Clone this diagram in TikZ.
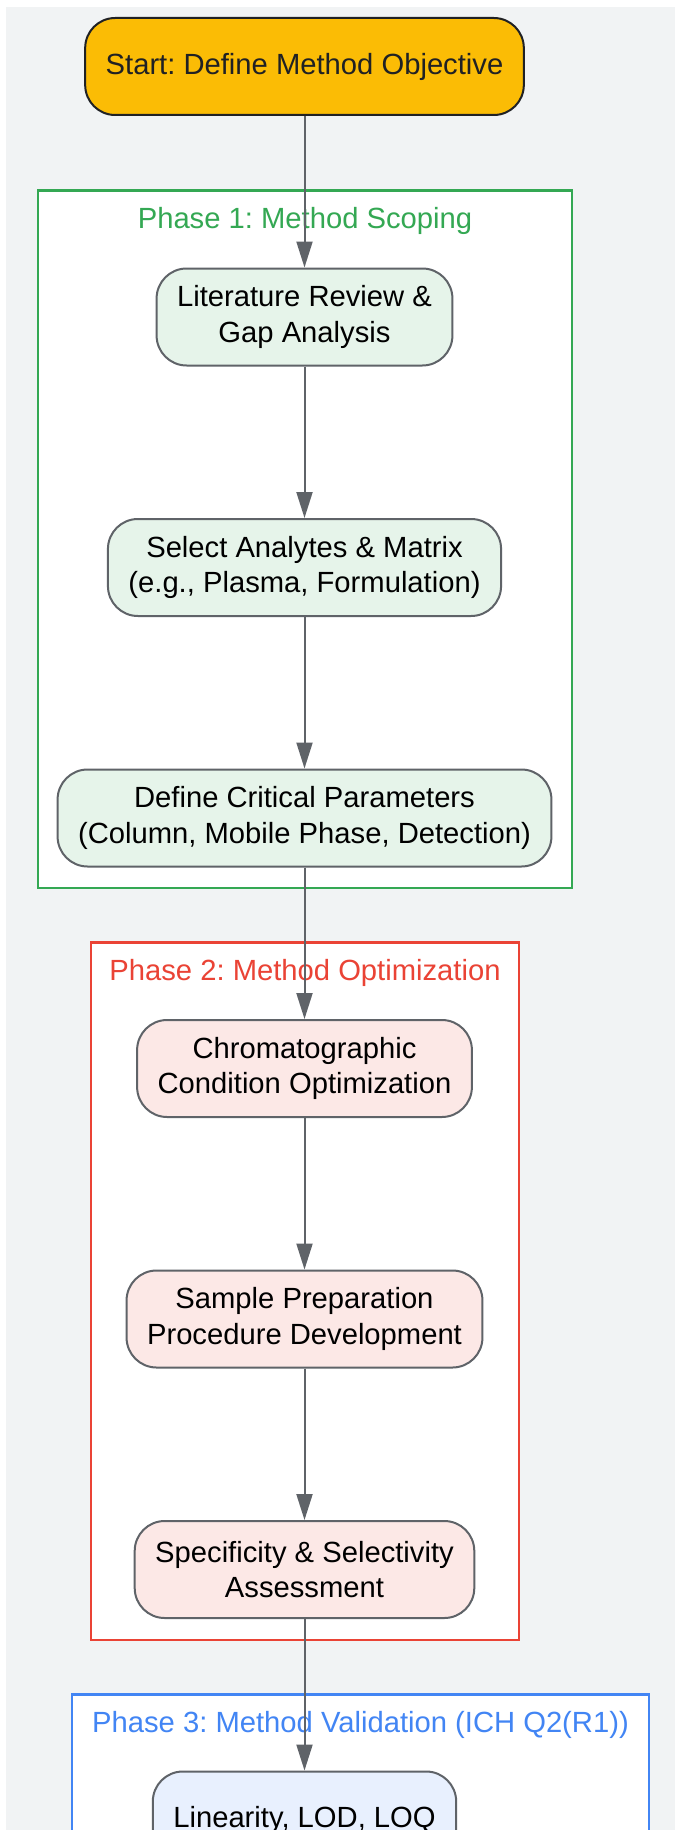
\documentclass[tikz,border=0pt]{standalone}
\usepackage{fontspec}
\setmainfont{Liberation Sans}
\frenchspacing
\usetikzlibrary{positioning}
\usetikzlibrary{arrows.meta}
\definecolor{bggray}{HTML}{F1F3F4}
\definecolor{edgegray}{HTML}{5F6368}
\definecolor{startyellow}{HTML}{FBBC05}
\definecolor{darkline}{HTML}{202124}
\definecolor{phasegreen}{HTML}{34A853}
\definecolor{phasered}{HTML}{EA4335}
\definecolor{phaseblue}{HTML}{4285F4}
\definecolor{fillgreen}{HTML}{E6F4EA}
\definecolor{fillred}{HTML}{FCE8E6}
\definecolor{fillblue}{HTML}{E8F0FE}
\tikzset{
        flownode/.style={align=center, rectangle, rounded corners=30pt, minimum height=97pt, inner xsep=20.5pt, inner ysep=5pt,
            font=\fontsize{29.2}{35.5}\selectfont, line width=2pt},
        % Start node
        node_start/.style={flownode, draw=darkline, fill=startyellow, text=darkline},
        % Scoping steps
        node_scope/.style={flownode, draw=edgegray, fill=fillgreen, text=black},
        % Optimization steps
        node_optim/.style={flownode, draw=edgegray, fill=fillred, text=black},
        % Validation steps
        node_valid/.style={flownode, draw=edgegray, fill=fillblue, text=black},
        % Phase frames and their titles
        cluster_box/.style={rectangle, draw, fill=white, line width=2.5pt, inner sep=0pt},
        cluster_title/.style={font=\fontsize{29.2}{35.5}\selectfont, inner sep=0pt},
        flow/.style={draw=edgegray, line width=2pt, -{Triangle[length=26pt,width=16pt]}}
}
\begin{document}
\begin{tikzpicture}[x=1pt, y=-1pt, node distance=151.5pt]
    \useasboundingbox (0,0) rectangle (675,1830);
    \fill[bggray] (6,7.3) rectangle (675,1830);

    % phase frames
    \node[cluster_box, draw=phasegreen, minimum width=534pt, minimum height=697.3pt] (phase1) at (305,539.35) {};
    \node[cluster_title, text=phasegreen] (phase1title) at ([yshift=-32pt]phase1.north) {Phase 1: Method Scoping};
    \node[cluster_box, draw=phasered, minimum width=428pt, minimum height=697.3pt] (phase2) at (305,1291.35) {};
    \node[cluster_title, text=phasered] (phase2title) at ([yshift=-31.5pt]phase2.north) {Phase 2: Method Optimization};
    \node[cluster_box, draw=phaseblue, minimum width=577pt, minimum height=300pt] (phase3) at (360.5,1844.7) {};
    \node[cluster_title, text=phaseblue] (phase3title) at ([yshift=-31pt]phase3.north) {Phase 3: Method Validation (ICH Q2(R1))};

    % steps
    \node[node_start] (start) at (304.5,66.5) {Start: Define Method Objective};
    \node[node_scope, below=of start] (litreview) {Literature Review \&\\Gap Analysis};
    \node[node_scope, below=of litreview] (analytes) {Select Analytes \& Matrix\\(e.g., Plasma, Formulation)};
    \node[node_scope, below=of analytes] (critparams) {Define Critical Parameters\\(Column, Mobile Phase, Detection)};
    \node[node_optim, below=of critparams] (chromcond) {Chromatographic\\Condition Optimization};
    \node[node_optim, below=of chromcond] (sampleprep) {Sample Preparation\\Procedure Development};
    \node[node_optim, below=of sampleprep] (specificity) {Specificity \& Selectivity\\Assessment};
    \node[node_valid, below=of specificity] (linearity) {Linearity, LOD, LOQ};

    % arrows
    \draw[flow] (start) -- (litreview);
    \draw[flow] (litreview) -- (analytes);
    \draw[flow] (analytes) -- (critparams);
    \draw[flow] (critparams) -- (chromcond);
    \draw[flow] (chromcond) -- (sampleprep);
    \draw[flow] (sampleprep) -- (specificity);
    \draw[flow] (specificity) -- (linearity);
\end{tikzpicture}
\end{document}
